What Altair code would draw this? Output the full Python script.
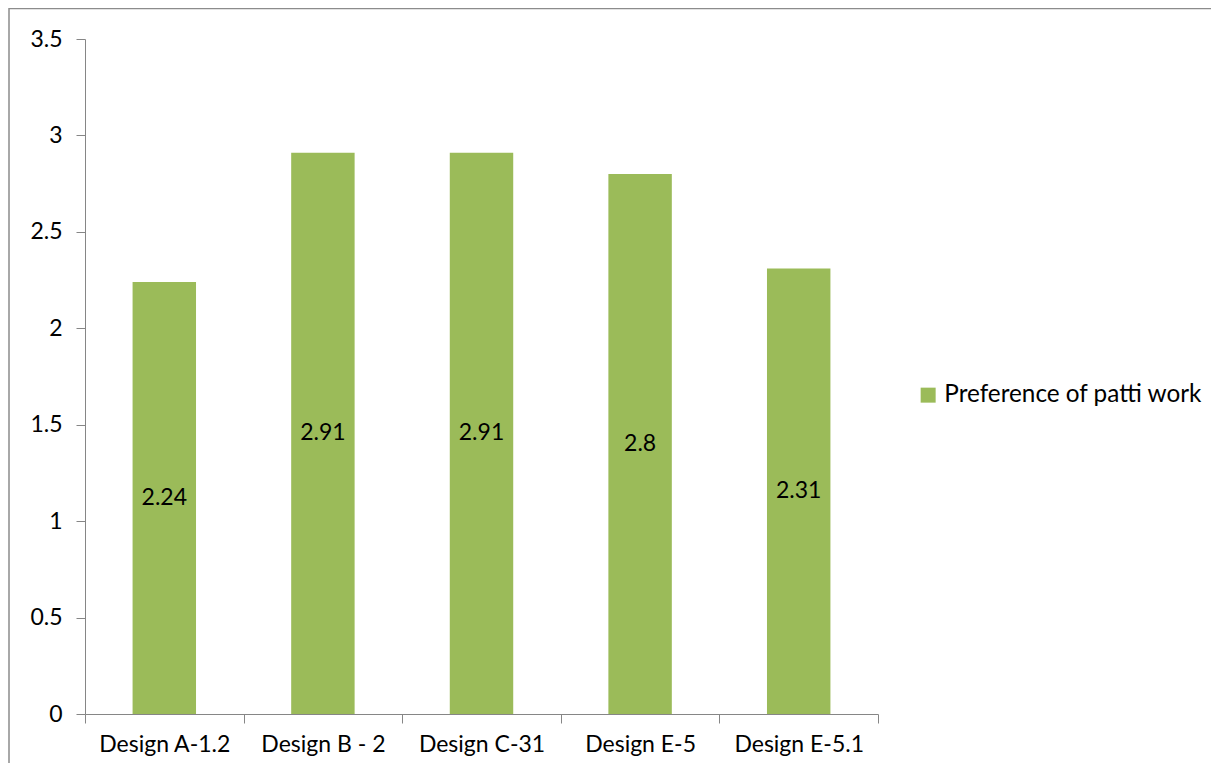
import altair as alt
import pandas as pd

categories = ["Design A-1.2", "Design B - 2", "Design C-31", "Design E-5", "Design E-5.1"]
values = [2.24, 2.91, 2.91, 2.8, 2.31]
series_name = "Preference of patti work"
y_ticks = [0, 0.5, 1, 1.5, 2, 2.5, 3, 3.5]

df = pd.DataFrame({"Design": categories, "value": values, "series": [series_name] * len(categories)})
df["label"] = [f"{v:g}" for v in values]

FONT = "Lato"
FS = 23
GRAY = "#868686"
GREEN = "#9BBB59"

x_axis = alt.Axis(title=None, labelAngle=0, tickBand="extent", tickSize=9,
                  labelPadding=10, domainColor=GRAY, tickColor=GRAY,
                  labelFont=FONT, labelFontSize=FS, labelColor="#000000")
x_scale = alt.Scale(paddingInner=0, paddingOuter=0)

bars = alt.Chart(df).mark_bar(color=GREEN, width=alt.RelativeBandSize(0.4)).encode(
    x=alt.X("Design:N", sort=categories, scale=x_scale, axis=x_axis),
    y=alt.Y("value:Q", scale=alt.Scale(domain=[0, 3.5], nice=False),
            axis=alt.Axis(title=None, values=y_ticks, grid=False, tickSize=9, format="~g",
                          labelPadding=14, domainColor=GRAY, tickColor=GRAY,
                          labelFont=FONT, labelFontSize=FS, labelColor="#000000")),
    fill=alt.Fill("series:N", scale=alt.Scale(range=[GREEN]),
                  legend=alt.Legend(title=None, orient="none", legendX=826, legendY=339,
                                    padding=5,
                                    symbolType="square", symbolSize=225, symbolStrokeWidth=0,
                                    labelFont=FONT, labelFontSize=24.3, labelColor="#000000",
                                    labelOffset=4, labelLimit=400)),
)

labels = alt.Chart(df).transform_calculate(mid="datum.value / 2").mark_text(
    font=FONT, fontSize=FS, color="#000000", baseline="middle", align="center"
).encode(
    x=alt.X("Design:N", sort=categories, scale=x_scale, axis=x_axis),
    y=alt.Y("mid:Q"),
    text="label:N",
)

border = alt.Chart(pd.DataFrame({"a": [0]})).mark_rect(
    fill=None, stroke="#8c8c8c", strokeWidth=1.5
).encode(
    x=alt.value(-76), x2=alt.value(1300), y=alt.value(-30.5), y2=alt.value(800)
)

chart = alt.layer(border, bars, labels).properties(
    width=793, height=675,
    padding={"left": 77, "top": 31, "right": 333, "bottom": 49},
    autosize=alt.AutoSizeParams(type="none"),
).configure_view(stroke=None)

chart.save("out.html", embed_options={"renderer": "svg", "actions": False})
